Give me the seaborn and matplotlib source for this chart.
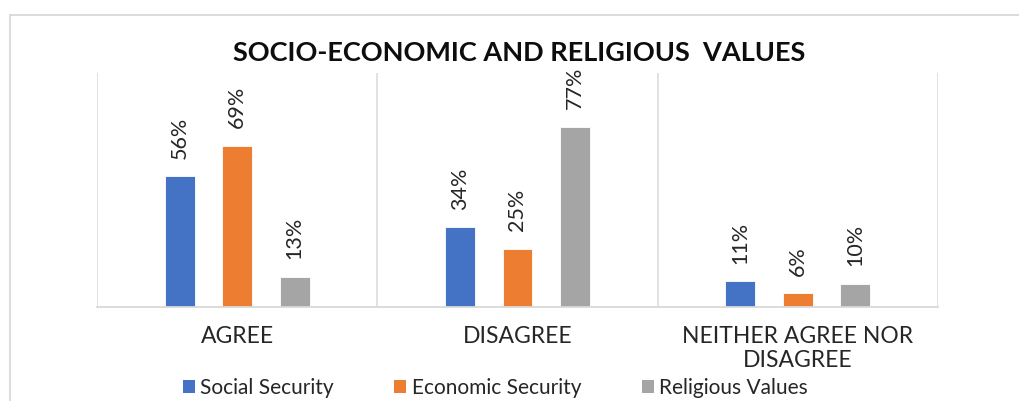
import numpy as np
import pandas as pd
import matplotlib
matplotlib.use("Agg")
import matplotlib.pyplot as plt
from matplotlib.lines import Line2D
import seaborn as sns

# Survey responses (percent) by value dimension
categories = ["AGREE", "DISAGREE", "NEITHER AGREE NOR\nDISAGREE"]
series = ["Social Security", "Economic Security", "Religious Values"]
social_security = [56, 34, 11]
economic_security = [69, 25, 6]
religious_values = [13, 77, 10]
colors = ["#4472C4", "#ED7D31", "#A5A5A5"]
title = "SOCIO-ECONOMIC AND RELIGIOUS  VALUES"

df = pd.DataFrame({
    "response": categories * 3,
    "value": social_security + economic_security + religious_values,
    "series": [s for s in series for _ in categories],
})

sns.set_theme(style="white")
plt.rcParams["font.family"] = ["Lato", "DejaVu Sans"]
text_color = "#262626"
line_color = "#d9d9d9"

fig = plt.figure(figsize=(10.19, 4.01), dpi=100)
ax = fig.add_axes([97 / 1019, 94 / 401, 841 / 1019, 234 / 401])

sns.barplot(data=df, x="response", y="value", hue="series", order=categories,
            hue_order=series, palette=colors, width=0.615, gap=0.478,
            saturation=1, edgecolor="white", linewidth=0.6, ax=ax, legend=False)

ax.set_xlim(-0.5, len(categories) - 0.5)
ax.set_ylim(0, 100)
ax.set_yticks([])
ax.set_xlabel("")
ax.set_ylabel("")
for side in ["left", "right", "top"]:
    ax.spines[side].set_visible(False)
ax.spines["bottom"].set_color(line_color)
ax.spines["bottom"].set_linewidth(1.3)

# category separators
bounds = np.arange(len(categories) + 1) - 0.5
ax.vlines(bounds, 0, 1, transform=ax.get_xaxis_transform(), colors=line_color,
          linewidth=1.1, zorder=0)

ax.tick_params(axis="x", length=0, pad=13.5, labelsize=16.5, labelcolor=text_color)
for lbl in ax.get_xticklabels():
    lbl.set_linespacing(1.2)

# value labels above each bar
for cont, vals in zip(ax.containers, [social_security, economic_security, religious_values]):
    ax.bar_label(cont, labels=[f"{v}%" for v in vals], padding=12.5, rotation=90,
                 fontsize=15.5, color=text_color)

# chart title
fig.text(519 / 1019, 1 - 61 / 401, title, ha="center", va="baseline",
         fontsize=19.5, fontweight="bold", color="#0d0d0d")

# legend
handles = [plt.Rectangle((0, 0), 1, 1, facecolor=c, edgecolor="none") for c in colors]
fig.legend(handles, series, loc="center left", bbox_to_anchor=(183 / 1019, 1 - 388 / 401),
           ncol=3, frameon=False, fontsize=15, handlelength=0.58, handleheight=0.58,
           handletextpad=0.25, columnspacing=2.9, borderpad=0, borderaxespad=0,
           labelcolor=text_color)

# outer chart-area border
fig.add_artist(Line2D([10 / 1019, 10 / 1019], [0, 1 - 15 / 401], transform=fig.transFigure,
                      color=line_color, linewidth=1.3))
fig.add_artist(Line2D([10 / 1019, 1], [1 - 15 / 401, 1 - 15 / 401], transform=fig.transFigure,
                      color=line_color, linewidth=1.3))

fig.savefig("out.png", dpi=100)
